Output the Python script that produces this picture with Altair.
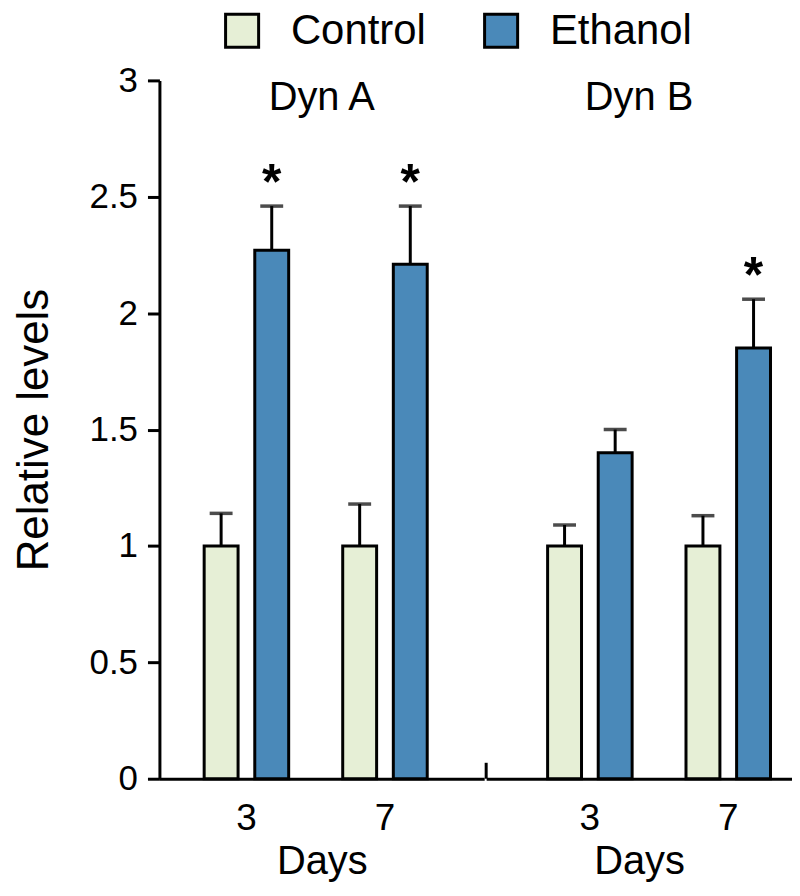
import altair as alt
import pandas as pd

# ---- data ----
dyn = ["Dyn A", "Dyn A", "Dyn A", "Dyn A", "Dyn B", "Dyn B", "Dyn B", "Dyn B"]
day = ["3", "3", "7", "7", "3", "3", "7", "7"]
treatment = ["Control", "Ethanol", "Control", "Ethanol", "Control", "Ethanol", "Control", "Ethanol"]
value = [1.0, 2.27, 1.0, 2.21, 1.0, 1.40, 1.0, 1.85]
upper = [1.14, 2.46, 1.18, 2.46, 1.09, 1.50, 1.13, 2.06]
sig = ["", "*", "", "*", "", "", "", "*"]

groups = ["Dyn A", "Dyn B"]
y_ticks = [0, 0.5, 1, 1.5, 2, 2.5, 3]
colors = ["#e6efd6", "#4a89b9"]

df = pd.DataFrame({"Dyn": dyn, "Day": day, "Treatment": treatment,
                   "Value": value, "Upper": upper, "Sig": sig})

FONT = "Liberation Sans"
H = 701


def panel(name, width, pad_outer, align, first):
    base = alt.Chart(df).transform_filter(alt.datum.Dyn == name)
    x = alt.X("Day:N", sort=["3", "7"],
              scale=alt.Scale(paddingInner=0.39, paddingOuter=pad_outer, align=align),
              axis=alt.Axis(title="Days", ticks=False, labelAngle=0, labelFontSize=37,
                            labelPadding=22, titleFontSize=40, titlePadding=5))
    xo = alt.XOffset("Treatment:N", sort=["Control", "Ethanol"],
                     scale=alt.Scale(paddingInner=0.33, paddingOuter=0))
    if first:
        yax = alt.Axis(values=y_ticks, format="~g", tickSize=12, labelFontSize=35,
                       labelPadding=10, title="Relative levels", titleFontSize=44,
                       titlePadding=33)
    else:
        yax = None
    yscale = alt.Scale(domain=[0, 3], nice=False)
    y = alt.Y("Value:Q", scale=yscale, axis=yax)

    rule = base.mark_rule(color="black", strokeWidth=3).encode(
        x=x, xOffset=xo, y=y, y2="Upper:Q")
    cap = base.mark_tick(color="black", size=23, thickness=3.5).encode(
        x=x, xOffset=xo, y=alt.Y("Upper:Q", scale=yscale, axis=yax))
    bars = base.mark_bar(stroke="black", strokeWidth=3).encode(
        x=x, xOffset=xo, y=y,
        color=alt.Color("Treatment:N", sort=["Control", "Ethanol"],
                        scale=alt.Scale(domain=["Control", "Ethanol"], range=colors),
                        legend=alt.Legend(title=None, orient="none", direction="horizontal",
                                          legendX=62, legendY=-71)))
    star = base.mark_text(font=FONT, fontSize=50, fontWeight="bold", baseline="alphabetic",
                          dy=-7, color="black").encode(
        x=x, xOffset=xo, y=alt.Y("Upper:Q", scale=yscale, axis=yax), text="Sig:N")
    lab = alt.Chart(pd.DataFrame({"Dyn": [name]})).mark_text(
        font=FONT, fontSize=40, baseline="middle", color="black").encode(
        x=alt.value(width / 2), y=alt.value(18), text="Dyn:N")
    layers = [rule, cap, bars, star, lab]
    if not first:
        mid = alt.Chart(pd.DataFrame({"Dyn": [name]})).mark_rule(
            color="black", strokeWidth=3).encode(
            x=alt.value(0), y=alt.value(H - 16), y2=alt.value(H))
        layers.append(mid)
    return alt.layer(*layers).properties(width=width, height=H)


left = panel(groups[0], 326, 0.367, 0.44, True)
right = panel(groups[1], 307, 0.30, 0.74, False)

chart = alt.hconcat(left, right, spacing=0).properties(
    padding={"left": 4, "top": 0, "right": 0, "bottom": 0}
).configure_view(stroke=None).configure_axis(
    domainColor="black", domainWidth=3, tickColor="black", tickWidth=3,
    labelColor="black", titleColor="black", labelFont=FONT, titleFont=FONT,
    titleFontWeight="normal", grid=False
).configure_legend(
    labelFont=FONT, labelFontSize=42, labelColor="black", symbolType="square",
    symbolSize=1100, symbolStrokeColor="black", symbolStrokeWidth=3,
    labelOffset=28, columnPadding=52, symbolOpacity=1, padding=0
)

chart.save("out.html", embed_options={"renderer": "svg", "actions": False})
